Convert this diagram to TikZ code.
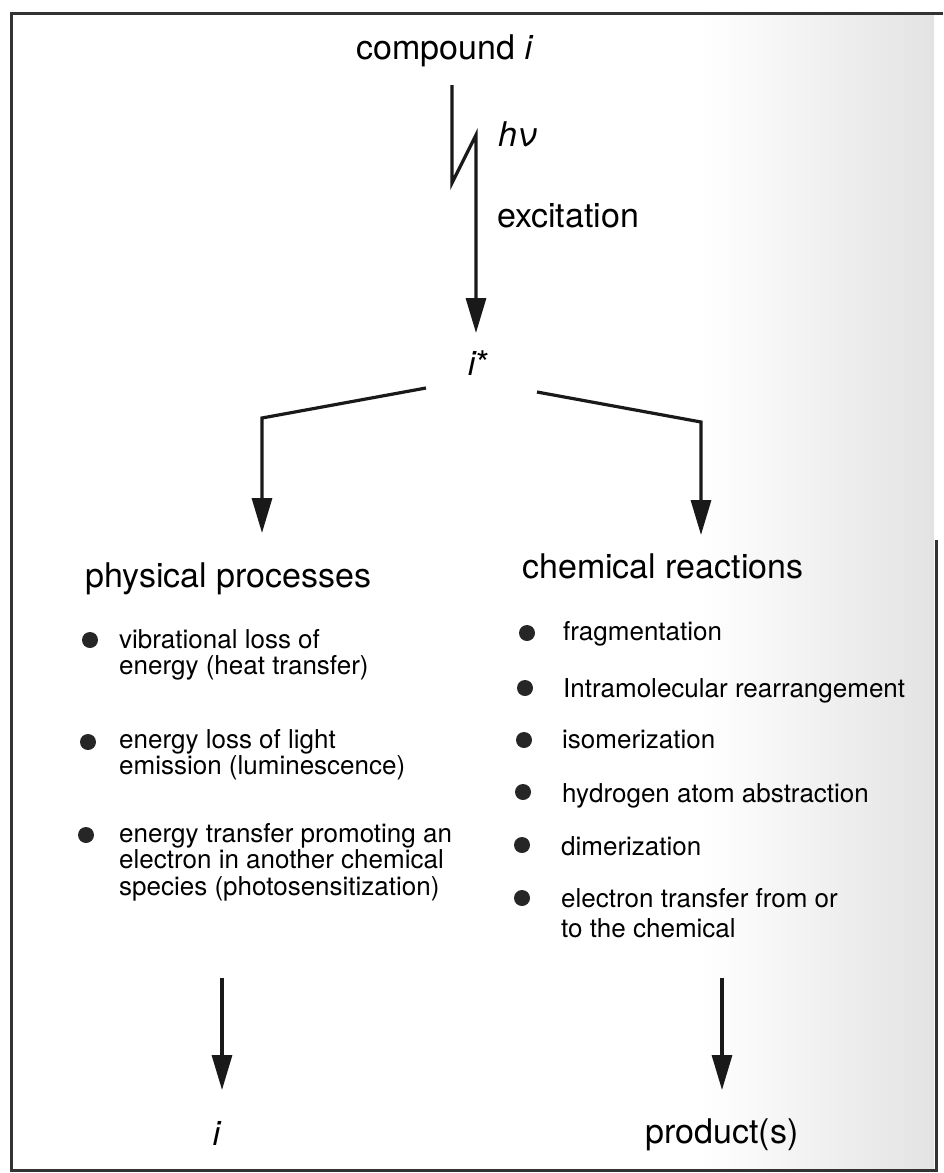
\documentclass[tikz,border=0pt]{standalone}
\usepackage{fontspec}
\setmainfont{TeX Gyre Heros}
\usetikzlibrary{arrows.meta}
\newcommand{\itemlines}[1]{\begin{tabular}[t]{@{}l@{}}#1\end{tabular}}
\tikzset{
  lbl/.style={inner sep=0pt, anchor=base west, font=\fontsize{34}{36}\selectfont},
  lblc/.style={inner sep=0pt, anchor=base, font=\fontsize{34}{36}\selectfont},
  item/.style={inner sep=0pt, anchor=base west, font=\fontsize{26}{26.5}\selectfont},
  dotmark/.style={circle, fill=black!85, inner sep=0pt, minimum size=16pt},
  conn/.style={line width=3.2pt, line join=miter, draw=black!90},
  arrowed/.style={-{Triangle[length=35pt,width=20pt]}},
  frameline/.style={line width=3pt, draw=black!80},
}
\begin{document}
\begin{tikzpicture}[x=1pt,y=-1pt]
\useasboundingbox (0,0) rectangle (943,1173);
\fill[white] (0,0) rectangle (943,1173);
\shade[left color=white, right color=black!11] (700,15) rectangle (934,1168);
% frame
\draw[frameline] (943,13) -- (11,13) -- (11,1170) -- (936,1170) -- (936,540);

% top
\node[lbl] (comp) at (356,59) {compound \textit{i}};
\node[lbl] (hv) at (498,146) {\textit{hν}};
\node[lbl] (exc) at (497,227) {excitation};
\node[lblc] (istar) at (479,375) {\textit{i}*};

\coordinate (z0) at (452,85);
\coordinate (z1) at (452,183);
\coordinate (z2) at (476,135);
\coordinate (z3) at (476,333);
\draw[conn, arrowed] (z0) -- (z1) -- (z2) -- (z3);

% branches
\coordinate (bl0) at (426,388);
\coordinate (bl1) at (262,418);
\coordinate (bl2) at (262,533);
\coordinate (br0) at (537,392);
\coordinate (br1) at (701,422);
\coordinate (br2) at (701,535);
\draw[conn, arrowed] (bl0) -- (bl1) -- (bl2);
\draw[conn, arrowed] (br0) -- (br1) -- (br2);

% headings
\node[lbl] (phys) at (85,587) {physical processes};
\node[lbl] (chem) at (522,578) {chemical reactions};

% left column
\node[dotmark] (pd1) at (90,640) {};
\node[item] (p1) at (119,648) {\itemlines{vibrational loss of\\energy (heat transfer)}};
\node[dotmark] (pd2) at (88,742) {};
\node[item] (p2) at (119,748) {\itemlines{energy loss of light\\emission (luminescence)}};
\node[dotmark] (pd3) at (86,835) {};
\node[item] (p3) at (119,842) {\itemlines{energy transfer promoting an\\electron in another chemical\\species (photosensitization)}};

% right column
\node[dotmark] (cd1) at (527,633) {};
\node[item] (c1) at (563,640) {fragmentation};
\node[dotmark] (cd2) at (525,688) {};
\node[item] (c2) at (563,697) {Intramolecular rearrangement};
\node[dotmark] (cd3) at (524,740) {};
\node[item] (c3) at (562,748) {isomerization};
\node[dotmark] (cd4) at (523,792) {};
\node[item] (c4) at (562,802) {hydrogen atom abstraction};
\node[dotmark] (cd5) at (522,845) {};
\node[item] (c5) at (561,855) {dimerization};
\node[dotmark] (cd6) at (522,898) {};
\node[item, font=\fontsize{26}{30}\selectfont] (c6) at (561,907) {\itemlines{electron transfer from or\\to the chemical}};

% bottom
\coordinate (la0) at (222,978);
\coordinate (la1) at (222,1090);
\coordinate (ra0) at (722,978);
\coordinate (ra1) at (722,1090);
\draw[conn, arrowed] (la0) -- (la1);
\draw[conn, arrowed] (ra0) -- (ra1);
\node[lblc] (iout) at (217,1145) {\textit{i}};
\node[lblc] (prod) at (722,1143) {product(s)};
\end{tikzpicture}
\end{document}
